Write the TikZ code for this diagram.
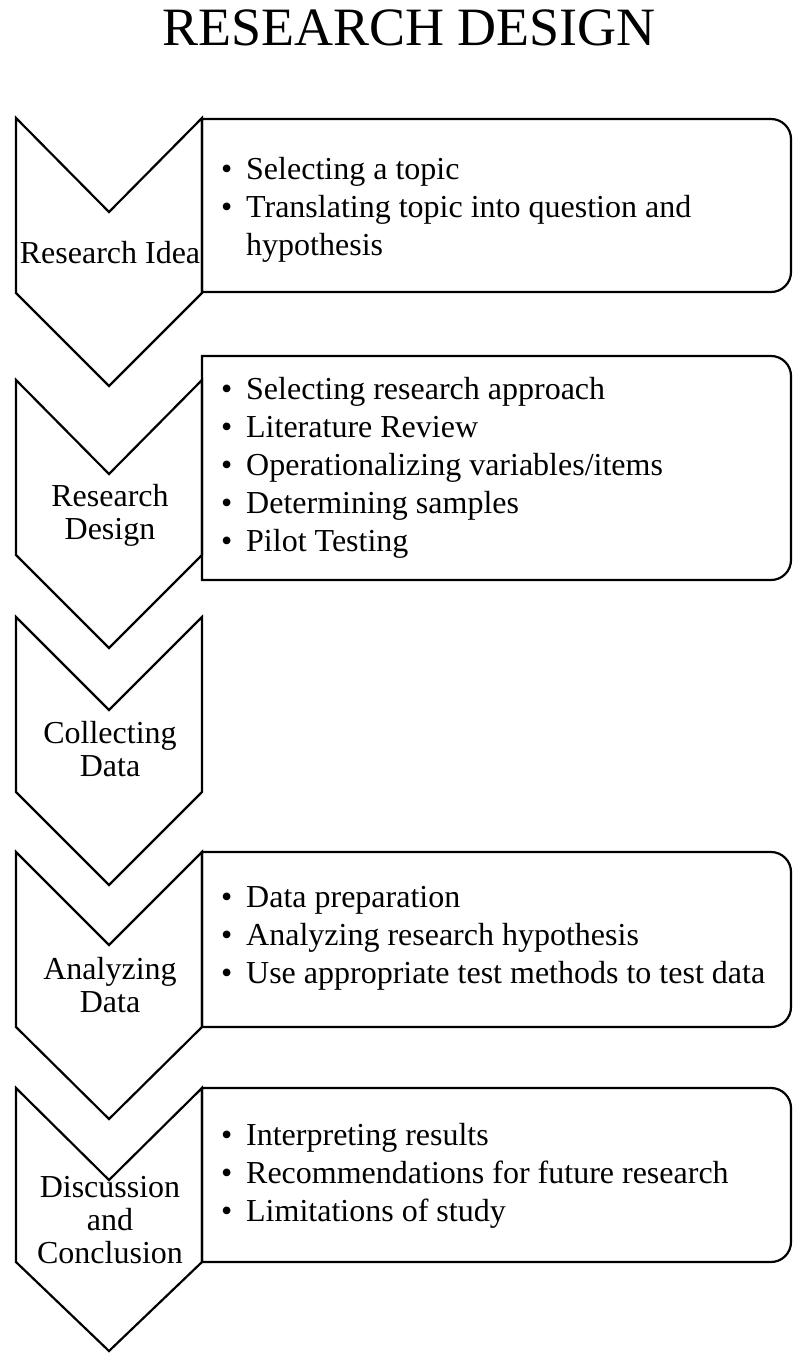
\documentclass[tikz,border=0pt]{standalone}
\usepackage{fontspec}
\setmainfont{Liberation Serif}
\tikzset{
  outline/.style={line width=2.2pt, line join=miter, black},
  lbl/.style={font=\rmfamily\fontsize{32}{33}\selectfont, align=center, inner sep=0pt},
  lst/.style={font=\rmfamily\fontsize{32}{38}\selectfont, align=left, inner sep=0pt, anchor=west},
  ttl/.style={font=\rmfamily\fontsize{54}{60}\selectfont, inner sep=0pt, anchor=base}
}
\newcommand\bl{\makebox[25pt][l]{\textbullet}}
\newcommand\ind{\hspace*{25pt}}
% chevron: top, notch, bottom corners, tip
\newcommand\chev[4]{\draw[outline] (16,#1) -- (109,#2) -- (202,#1) -- (202,#3) -- (109,#4) -- (16,#3) -- cycle;}
% box with rounded right corners: top, bottom
\newcommand\rbox[2]{\draw[outline] (202,#2) -- (202,#1) -- (771,#1) .. controls (782.05,#1) and (791,#1+8.95) .. (791,#1+20) -- (791,#2-20) .. controls (791,#2-8.95) and (782.05,#2) .. (771,#2) -- cycle;}
\begin{document}
\begin{tikzpicture}[x=1pt,y=-1pt]
\useasboundingbox (0,0) rectangle (793,1354);
\node[ttl] (title) at (409,46) {RESEARCH DESIGN};
% chevrons
\chev{118}{212}{293}{386}
\chev{380}{474}{555}{648}
\chev{617}{710}{792}{885}
\chev{852}{945}{1027}{1119}
\chev{1088}{1180}{1262}{1351}
% boxes
\rbox{119}{292}
\rbox{356}{580}
\rbox{852}{1027}
\rbox{1088}{1262}
% chevron labels
\node[lbl] (c1) at (110,252.2) {Research Idea};
\node[lbl] (c2) at (110,515.5) {Research\\Design};
\node[lbl] (c3) at (110,748.7) {Collecting\\Data};
\node[lbl] (c4) at (110,985.2) {Analyzing\\Data};
\node[lbl] (c5) at (110,1220.2) {Discussion\\and\\Conclusion};
% lists
\node[lst] (t1) at (221,209.6) {\bl Selecting a topic\\\bl Translating topic into question and\\\ind hypothesis};
\node[lst] (t2) at (221,467.6) {\bl Selecting research approach\\\bl Literature Review\\\bl Operationalizing variables/items\\\bl Determining samples\\\bl Pilot Testing};
\node[lst] (t4) at (221,938.6) {\bl Data preparation\\\bl Analyzing research hypothesis\\\bl Use appropriate test methods to test data};
\node[lst] (t5) at (221,1175.6) {\bl Interpreting results\\\bl Recommendations for future research\\\bl Limitations of study};
\end{tikzpicture}
\end{document}
